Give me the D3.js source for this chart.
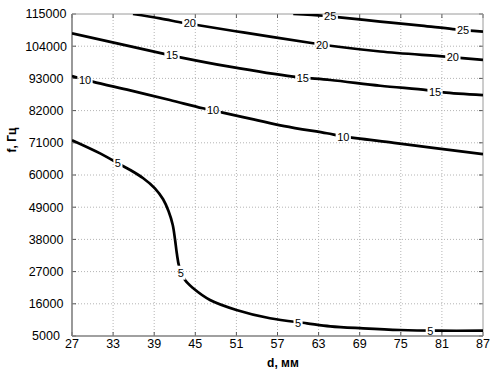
<!DOCTYPE html>
<html>
<head>
<meta charset="utf-8">
<script src="https://cdn.jsdelivr.net/npm/d3@7"></script>
<style>
  body { margin: 0; background: #fff; }
  svg { display: block; font-family: Arial, "Liberation Sans", sans-serif; }
</style>
</head>
<body>
<div id="chart"></div>
<script>
// tick labels
var xTicks = [27, 33, 39, 45, 51, 57, 63, 69, 75, 81, 87];
var yTicks = [5000, 16000, 27000, 38000, 49000, 60000, 71000, 82000, 93000, 104000, 115000];

// contour levels, each line as [d, f] points
var levels = [5, 10, 15, 20, 25];
var line5 = [[27, 71900], [31.1, 67400], [33.7, 64000], [35.5, 61700], [37.4, 58900], [39.1, 55450],
  [40.3, 51700], [41.1, 47600], [41.7, 43000], [42.05, 37800], [42.3, 33250], [42.65, 28700],
  [43.5, 24100], [44.7, 21300], [47.15, 17300], [51, 13900], [55.9, 11050], [61.3, 9340],
  [64.7, 8310], [69.5, 7630], [74.9, 7050], [80.3, 6810], [87, 6810]];
var line10 = [[27, 93800], [30, 91900], [35.5, 88900], [41.3, 85600], [46.1, 82800], [49, 81300],
  [53.5, 79000], [58, 76700], [64.2, 74250], [66.6, 73200], [74, 71000], [80, 69200], [87, 67100]];
var line15 = [[27, 108400], [40.6, 101300], [42.8, 100200], [50, 97000], [59.3, 93600], [64.7, 92450],
  [72, 90500], [78.8, 89000], [81.2, 88250], [87, 87300]];
var line20 = [[35.9, 115000], [39.85, 113500], [43.2, 112000], [45.25, 111250], [52, 108700],
  [62.2, 105000], [64.7, 104150], [72, 102200], [81.7, 100400], [87, 99300]];
var line25 = [[59.3, 115000], [63.7, 114400], [65.7, 113950], [72, 112400], [78, 111000],
  [82.6, 109850], [87, 108950]];
var lines = [line5, line10, line15, line20, line25];

// inline label spots [d, f] for each level
var labels5 = [[33.7, 64000], [42.9, 26600], [60, 9540], [79.3, 6710]];
var labels10 = [[28.9, 92450], [47.6, 82200], [66.6, 73100]];
var labels15 = [[41.6, 101000], [60.7, 93240], [80, 88450]];
var labels20 = [[44.2, 111750], [63.5, 104400], [82.6, 100300]];
var labels25 = [[64.7, 114140], [84.1, 109360]];
var labelSpots = [labels5, labels10, labels15, labels20, labels25];

var W = 503, H = 379;
var margin = {top: 14, right: 20, bottom: 43, left: 72};
var width = W - margin.left - margin.right,
    height = H - margin.top - margin.bottom;

var svg = d3.select("#chart").append("svg")
    .attr("width", W)
    .attr("height", H);

var g = svg.append("g")
    .attr("transform", "translate(" + margin.left + "," + margin.top + ")");

var x = d3.scaleLinear().domain([27, 87]).range([0, width]);
var y = d3.scaleLinear().domain([5000, 115000]).range([height, 0]);

// dotted grid
g.append("g").selectAll("line")
    .data(xTicks.slice(1, -1))
  .enter().append("line")
    .attr("x1", function(d) { return x(d); })
    .attr("x2", function(d) { return x(d); })
    .attr("y1", 0).attr("y2", height)
    .attr("stroke", "#b4b4b4").attr("stroke-dasharray", "1,2");
g.append("g").selectAll("line")
    .data(yTicks.slice(1, -1))
  .enter().append("line")
    .attr("y1", function(d) { return y(d); })
    .attr("y2", function(d) { return y(d); })
    .attr("x1", 0).attr("x2", width)
    .attr("stroke", "#b4b4b4").attr("stroke-dasharray", "1,2");

// inward ticks on all four sides
var tl = 4;
var tk = g.append("g").attr("stroke", "#555").attr("stroke-width", 1);
xTicks.forEach(function(t) {
  tk.append("line").attr("x1", x(t)).attr("x2", x(t)).attr("y1", height).attr("y2", height - tl);
  tk.append("line").attr("x1", x(t)).attr("x2", x(t)).attr("y1", 0).attr("y2", tl);
});
yTicks.forEach(function(t) {
  tk.append("line").attr("y1", y(t)).attr("y2", y(t)).attr("x1", 0).attr("x2", tl);
  tk.append("line").attr("y1", y(t)).attr("y2", y(t)).attr("x1", width).attr("x2", width - tl);
});

// box
g.append("line").attr("x1", 0).attr("x2", width).attr("y1", 0).attr("y2", 0)
    .attr("stroke", "#9a9a9a");
g.append("line").attr("x1", width).attr("x2", width).attr("y1", 0).attr("y2", height)
    .attr("stroke", "#9a9a9a");
g.append("line").attr("x1", 0).attr("x2", 0).attr("y1", 0).attr("y2", height)
    .attr("stroke", "#808080").attr("stroke-width", 1.6);
g.append("line").attr("x1", 0).attr("x2", width).attr("y1", height).attr("y2", height)
    .attr("stroke", "#808080").attr("stroke-width", 1.6);

// tick labels
g.append("g").selectAll("text")
    .data(xTicks)
  .enter().append("text")
    .attr("x", function(d) { return x(d); })
    .attr("y", height + 12)
    .attr("text-anchor", "middle")
    .style("font-size", "12.5px")
    .text(function(d) { return d; });
g.append("g").selectAll("text")
    .data(yTicks)
  .enter().append("text")
    .attr("x", -26)
    .attr("y", function(d) { return y(d); })
    .attr("dy", "0.35em")
    .attr("text-anchor", "middle")
    .style("font-size", "12.5px")
    .text(function(d) { return d; });

// axis titles
svg.append("text")
    .attr("x", 283).attr("y", 367)
    .attr("text-anchor", "middle")
    .style("font-size", "12px").style("font-weight", "bold")
    .text("d, мм");
svg.append("text")
    .attr("transform", "translate(16,140) rotate(-90)")
    .attr("text-anchor", "middle")
    .style("font-size", "12px").style("font-weight", "bold")
    .text("f, Гц");

// labels first so the mask can cut gaps in the lines
var labG = g.append("g");
var mask = svg.append("defs").append("mask").attr("id", "gaps")
    .attr("maskUnits", "userSpaceOnUse")
    .attr("x", -margin.left).attr("y", -margin.top).attr("width", W).attr("height", H);
mask.append("rect").attr("x", -margin.left).attr("y", -margin.top)
    .attr("width", W).attr("height", H).attr("fill", "#fff");

labelSpots.forEach(function(spots, i) {
  spots.forEach(function(p) {
    var t = labG.append("text")
        .attr("x", x(p[0]))
        .attr("y", y(p[1]))
        .attr("dy", "0.36em")
        .attr("text-anchor", "middle")
        .style("font-size", "11px")
        .text(levels[i]);
    var b = t.node().getBBox();
    mask.append("rect")
        .attr("x", b.x - 1.5).attr("y", b.y - 1)
        .attr("width", b.width + 3).attr("height", b.height + 2)
        .attr("fill", "#000");
  });
});

// contour lines
var path = d3.line()
    .x(function(d) { return x(d[0]); })
    .y(function(d) { return y(d[1]); })
    .curve(d3.curveCatmullRom.alpha(0.5));

var clip = svg.append("defs").append("clipPath").attr("id", "plotclip");
clip.append("rect").attr("width", width).attr("height", height);

g.append("g")
    .attr("clip-path", "url(#plotclip)")
  .append("g")
    .attr("mask", "url(#gaps)")
  .selectAll("path")
    .data(lines)
  .enter().append("path")
    .attr("d", path)
    .attr("fill", "none")
    .attr("stroke", "#000")
    .attr("stroke-width", 2.7)
    .attr("stroke-linejoin", "round");
</script>
</body>
</html>
